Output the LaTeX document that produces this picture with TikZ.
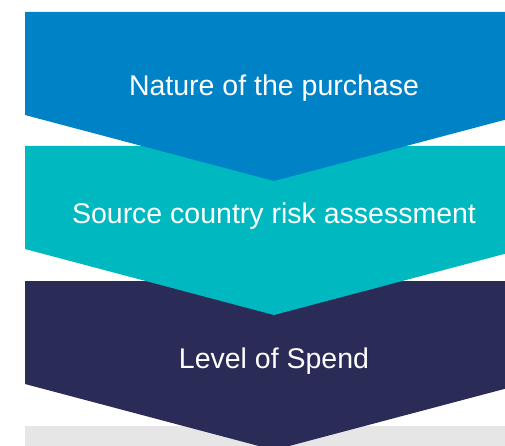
\documentclass[tikz,border=0pt]{standalone}
\usepackage{fontspec}
\setmainfont{Liberation Sans}
\usepackage{tikz}
\definecolor{natureblue}{HTML}{0082C6}
\definecolor{sourceteal}{HTML}{00B8BF}
\definecolor{spendnavy}{HTML}{2A2B57}
\definecolor{restgray}{HTML}{E6E6E6}
\tikzset{
    steplabel/.style={text=white, anchor=base, inner sep=0pt,
        font=\fontsize{28.5}{34}\selectfont}}

\begin{document}
\begin{tikzpicture}[x=1pt, y=-1pt]

            \useasboundingbox (0,0) rectangle (505,446);
            \clip (0,0) rectangle (505,446);

            \fill[restgray] (25,426) rectangle (505,446);
            \fill[spendnavy] (25,281) -- (523,281) -- (523,384) -- (274,450) -- (25,384) -- cycle;
            \fill[sourceteal] (25,146) -- (523,146) -- (523,249) -- (274,315) -- (25,249) -- cycle;
            \fill[natureblue] (25,12) -- (523,12) -- (523,115) -- (274,181) -- (25,115) -- cycle;

            \node[steplabel] (nature) at (274,96) {Nature of the purchase};
            \node[steplabel] (source) at (274,223) {Source country risk assessment};
            \node[steplabel] (spend) at (274,368) {Level of Spend};

        \end{tikzpicture}
\end{document}
